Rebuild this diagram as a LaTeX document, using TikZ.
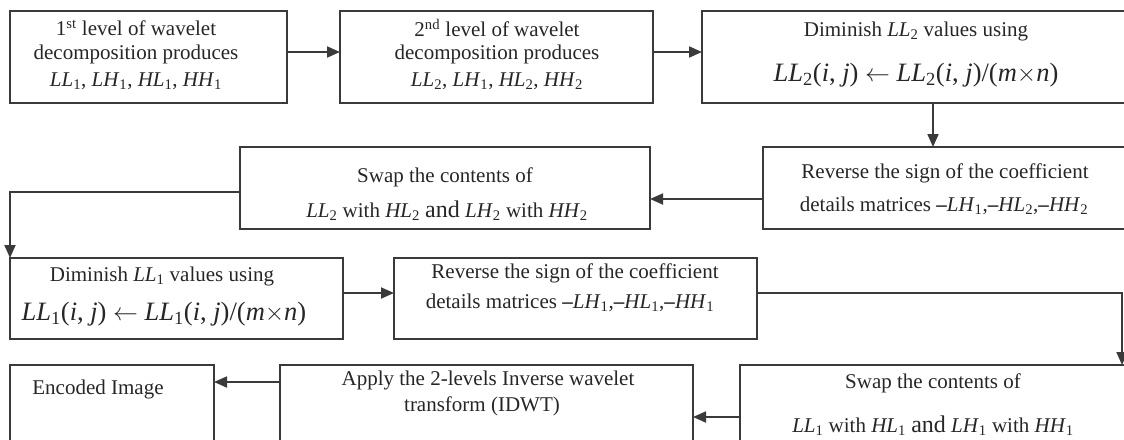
\documentclass[tikz,border=0pt]{standalone}
\usepackage{fontspec}
\setmainfont{Liberation Serif}
\usetikzlibrary{arrows.meta,calc}
\definecolor{ink}{HTML}{262626}
\definecolor{edge}{HTML}{3A3A3A}
% italic matrix name with a subscript index
\newcommand\mtx[2]{\textit{#1}\textsubscript{#2}}
\begin{document}
\begin{tikzpicture}[x=1pt,y=-1pt,
  box/.style={draw=edge,line width=1.8pt,inner sep=0pt,outer sep=0pt},
  txt/.style={text=ink,inner sep=0pt,font=\fontsize{21}{24}\selectfont},
  big/.style={text=ink,inner sep=0pt,font=\fontsize{26.5}{30}\selectfont},
  arr/.style={draw=edge,line width=1.8pt,-{Triangle[length=13pt,width=11pt]}}]
\useasboundingbox (0,0) rectangle (1124,439);
\clip (0,0) rectangle (1124,439);

% process boxes
\node[box,minimum width=277pt,minimum height=92pt] (A)  at (148.5,57) {};
\node[box,minimum width=313pt,minimum height=92pt] (B)  at (496.5,57) {};
\node[box,minimum width=448pt,minimum height=92pt] (C)  at (926,57) {};
\node[box,minimum width=387pt,minimum height=82pt] (D)  at (956.5,188) {};
\node[box,minimum width=410pt,minimum height=82pt] (S2) at (445,188) {};
\node[box,minimum width=333pt,minimum height=81pt] (L1) at (176.5,298.5) {};
\node[box,minimum width=363pt,minimum height=81pt] (R1) at (575.5,298.5) {};
\node[box,minimum width=204pt,minimum height=95pt] (E)  at (112,412.5) {};
\node[box,minimum width=413pt,minimum height=95pt] (P)  at (486.5,412.5) {};
\node[box,minimum width=410pt,minimum height=95pt] (S1) at (945,412.5) {};

% box texts
\node[txt] (a1) at (136,28) {1\textsuperscript{st} level of wavelet};
\node[txt] (a2) at (136,54) {decomposition produces};
\node[txt] (a3) at (136,81) {\mtx{LL}{1}, \mtx{LH}{1}, \mtx{HL}{1}, \mtx{HH}{1}};
\node[txt] (b1) at (497,28) {2\textsuperscript{nd} level of wavelet};
\node[txt] (b2) at (497,54) {decomposition produces};
\node[txt] (b3) at (497,81) {\mtx{LL}{2}, \mtx{LH}{1}, \mtx{HL}{2}, \mtx{HH}{2}};
\node[txt] (c1) at (916,31) {Diminish \mtx{LL}{2} values using};
\node[big] (c2) at (916,75) {\mtx{LL}{2}(\textit{i}, \textit{j}) $\leftarrow$ \mtx{LL}{2}(\textit{i}, \textit{j})/(\textit{m}$\times$\textit{n})};
\node[txt] (d1) at (945,173) {Reverse the sign of the coefficient};
\node[txt] (d2) at (944,206) {details matrices \textbf{–}\mtx{LH}{1},\textbf{–}\mtx{HL}{2},\textbf{–}\mtx{HH}{2}};
\node[txt] (s21) at (445,177) {Swap the contents of};
\node[txt] (s22) at (447,211) {\mtx{LL}{2} with \mtx{HL}{2} {\fontsize{24}{26}\selectfont and} \mtx{LH}{2} with \mtx{HH}{2}};
\node[txt] (l11) at (162,276) {Diminish \mtx{LL}{1} values using};
\node[big] (l12) at (164,314) {\mtx{LL}{1}(\textit{i}, \textit{j}) $\leftarrow$ \mtx{LL}{1}(\textit{i}, \textit{j})/(\textit{m}$\times$\textit{n})};
\node[txt] (r11) at (575,273) {Reverse the sign of the coefficient};
\node[txt] (r12) at (570,303) {details matrices \textbf{–}\mtx{LH}{1},\textbf{–}\mtx{HL}{1},\textbf{–}\mtx{HH}{1}};
\node[txt] (e1) at (98,389) {Encoded Image};
\node[txt] (p1) at (488,380) {Apply the 2-levels Inverse wavelet};
\node[txt] (p2) at (482,406) {transform (IDWT)};
\node[txt] (s11) at (933,383) {Swap the contents of};
\node[txt] (s12) at (933,426) {\mtx{LL}{1} with \mtx{HL}{1} {\fontsize{24}{26}\selectfont and} \mtx{LH}{1} with \mtx{HH}{1}};

% connector levels
\coordinate (ya) at (0,52);
\coordinate (xc) at (933,0);
\coordinate (yb) at (0,199);
\coordinate (yc) at (0,192);
\coordinate (yd) at (0,293);
\coordinate (xr) at (1122,0);
\coordinate (ye) at (0,417);
\coordinate (yf) at (0,382);

% flow
\draw[arr] (A.east|-ya) -- (B.west|-ya);
\draw[arr] (B.east|-ya) -- (C.west|-ya);
\draw[arr] (C.south-|xc) -- (D.north-|xc);
\draw[arr] (D.west|-yb) -- (S2.east|-yb);
\draw[arr] (S2.west|-yc) -| (L1.north west);
\draw[arr] (L1.east|-yd) -- (R1.west|-yd);
\draw[arr] (R1.east|-yd) -| (xr|-S1.north);
\draw[arr] (S1.west|-ye) -- (P.east|-ye);
\draw[arr] (P.west|-yf) -- (E.east|-yf);
\end{tikzpicture}
\end{document}
